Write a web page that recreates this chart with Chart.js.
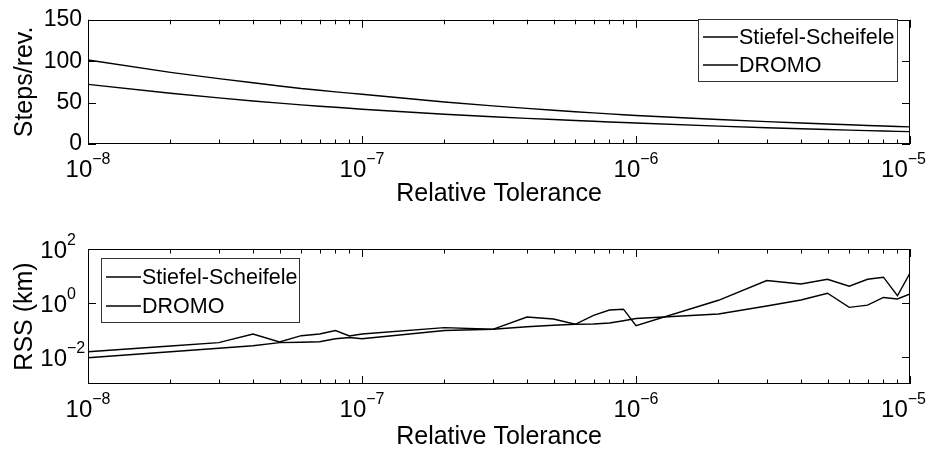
<!DOCTYPE html>
<html><head><meta charset="utf-8">
<script src="https://cdn.jsdelivr.net/npm/chart.js@4.4.0/dist/chart.umd.min.js"></script>
<style>
html,body{margin:0;padding:0;background:#fff;}
#wrap{position:relative;width:936px;height:452px;overflow:hidden;background:#fff;}
canvas{position:absolute;left:0;}
</style></head><body>
<div id="wrap">
<canvas id="c1" width="936" height="226" style="top:0px"></canvas>
<canvas id="c2" width="936" height="226" style="top:226px"></canvas>
</div>
<script>
// ---- data ----
const tolerance = [1e-8,2e-8,3e-8,4e-8,5e-8,6e-8,7e-8,8e-8,9e-8,
                   1e-7,2e-7,3e-7,4e-7,5e-7,6e-7,7e-7,8e-7,9e-7,
                   1e-6,2e-6,3e-6,4e-6,5e-6,6e-6,7e-6,8e-6,9e-6,1e-5];
const seriesNames = ['Stiefel-Scheifele', 'DROMO'];
const ssSteps    = [101.5,86.5,79,74,70,67,65,63,61.5,60,50.8,46,43,40.8,39,37.6,36.4,35.4,34.5,29.6,27,25.4,24.1,23.2,22.4,21.7,21.2,20.7];
const dromoSteps = [72,61.3,55.7,52,49.4,47.3,45.6,44.3,43.1,42,36,33,31,29.5,28.3,27.4,26.6,25.9,25.3,21.6,19.7,18.4,17.5,16.7,16.2,15.7,15.3,14.9];
const ssRss    = [0.0157,0.0255,0.034,0.071,0.036,0.0615,0.071,0.096,0.06,0.071,0.122,0.106,0.303,0.255,0.163,0.35,0.55,0.59,0.144,1.26,6.8,5.05,7.6,4.19,7.55,9.03,1.86,12.9];
const dromoRss = [0.0094,0.0156,0.021,0.026,0.034,0.0353,0.0366,0.0472,0.0527,0.0472,0.0957,0.106,0.132,0.149,0.163,0.167,0.181,0.221,0.267,0.39,0.77,1.29,2.29,0.69,0.83,1.6,1.41,2.15];
const xTickExponents = [-8,-7,-6,-5];
const stepsTicks = [0,50,100,150];
const rssTickExponents = [-2,0,2];
const xTitle = 'Relative Tolerance';
const stepsTitle = 'Steps/rev.';
const rssTitle = 'RSS (km)';

const FONT = "'Liberation Sans', Arial, Helvetica, sans-serif";
const MINUS = '\u2212';

function pts(vals){ return tolerance.map((t,i)=>({x:t, y:vals[i]})); }

const matlabAxes = {
  id: 'matlabAxes',
  afterDraw(chart, args, o) {
    const ctx = chart.ctx, a = chart.chartArea;
    const xs = chart.scales.x, ys = chart.scales.y;
    ctx.save();
    ctx.strokeStyle = '#000'; ctx.lineWidth = 1;
    ctx.strokeRect(Math.round(a.left)+0.5, Math.round(a.top)+0.5, Math.round(a.right-a.left)-1, Math.round(a.bottom-a.top)-1);
    const L = 8, Lm = 4.5;
    const decs = xTickExponents;
    ctx.beginPath();
    decs.forEach((e,k)=>{
      const v = Math.pow(10,e);
      const px = Math.round(xs.getPixelForValue(v))+0.5;
      ctx.moveTo(px, a.bottom); ctx.lineTo(px, a.bottom-L);
      ctx.moveTo(px, a.top); ctx.lineTo(px, a.top+L);
      if (k < decs.length-1) {
        for (let m=2;m<=9;m++){
          const p = Math.round(xs.getPixelForValue(m*v))+0.5;
          ctx.moveTo(p, a.bottom); ctx.lineTo(p, a.bottom-Lm);
          ctx.moveTo(p, a.top); ctx.lineTo(p, a.top+Lm);
        }
      }
    });
    o.yTicks.forEach(v=>{
      const py = Math.round(ys.getPixelForValue(v))+0.5;
      ctx.moveTo(a.left, py); ctx.lineTo(a.left+L, py);
      ctx.moveTo(a.right, py); ctx.lineTo(a.right-L, py);
    });
    ctx.stroke();
    ctx.fillStyle = '#000';
    ctx.textBaseline = 'alphabetic';
    decs.forEach(e=>{
      const px = xs.getPixelForValue(Math.pow(10,e));
      ctx.font = '24px ' + FONT;
      const w1 = ctx.measureText('10').width;
      ctx.font = '16px ' + FONT;
      const es = (e<0?MINUS:'') + Math.abs(e);
      const w2 = ctx.measureText(es).width;
      let x0 = px - (w1+w2)/2;
      if (x0 + w1 + w2 > 926) x0 = 926 - w1 - w2;
      const base = a.bottom + 33;
      ctx.textAlign = 'left';
      ctx.font = '24px ' + FONT; ctx.fillText('10', x0, base);
      ctx.font = '16px ' + FONT; ctx.fillText(es, x0 + w1, base - 13);
    });
    if (o.yLogExps) {
      o.yLogExps.forEach(e=>{
        const py = ys.getPixelForValue(Math.pow(10,e));
        const es = (e<0?MINUS:'') + Math.abs(e);
        ctx.textAlign = 'right'; ctx.font = '24px ' + FONT;
        ctx.fillText('10', a.left - 21, py + 8.5);
        ctx.textAlign = 'left'; ctx.font = '16px ' + FONT;
        ctx.fillText(es, a.left - 21, py - 4.5);
      });
    }
    const lg = o.legend;
    ctx.fillStyle = '#fff';
    ctx.fillRect(lg.x, lg.y, lg.w, lg.h);
    ctx.strokeStyle = '#333'; ctx.lineWidth = 1;
    ctx.strokeRect(lg.x+0.5, lg.y+0.5, lg.w, lg.h);
    chart.data.datasets.forEach((ds,i)=>{
      const ry = lg.y + lg.rows[i];
      ctx.strokeStyle = ds.borderColor; ctx.lineWidth = ds.borderWidth;
      ctx.beginPath(); ctx.moveTo(lg.x+5, ry); ctx.lineTo(lg.x+40, ry); ctx.stroke();
      ctx.fillStyle = '#000'; ctx.font = '21.5px ' + FONT;
      ctx.textAlign = 'left'; ctx.textBaseline = 'middle';
      ctx.fillText(ds.label, lg.x+41, ry+1);
    });
    ctx.restore();
  }
};

function makeChart(id, vals, yScale, pad, xH, plugOpts, xTitlePadB) {
  return new Chart(document.getElementById(id), {
    type: 'line',
    data: {
      datasets: vals.map((v,i)=>({
        label: seriesNames[i], data: pts(v),
        borderColor: '#000', borderWidth: 1.4, pointRadius: 0, tension: 0, fill: false
      }))
    },
    options: {
      responsive: false, animation: false, events: [],
      layout: { padding: pad },
      plugins: { legend: {display:false}, tooltip: {enabled:false}, matlabAxes: plugOpts },
      scales: {
        x: {
          type: 'logarithmic', min: 1e-8, max: 1e-5,
          grid: {display:false, drawTicks:false}, border: {display:false},
          ticks: {display:false},
          title: {display:true, text: xTitle, color:'#000', font:{family:FONT, size:25}, padding:{top:0,bottom:xTitlePadB}},
          afterFit(s){ s.height = xH; }
        },
        y: Object.assign({
          grid: {display:false, drawTicks:false}, border: {display:false},
          afterFit(s){ s.width = 88; }
        }, yScale)
      }
    },
    plugins: [matlabAxes]
  });
}

makeChart('c1', [ssSteps, dromoSteps], {
  type: 'linear', min: 0, max: 150,
  afterBuildTicks(s){ s.ticks = stepsTicks.map(v=>({value:v})); },
  ticks: {color:'#000', padding:6, font:{family:FONT, size:23}},
  title: {display:true, text: stepsTitle, color:'#000', font:{family:FONT, size:25}, padding:{top:10,bottom:0}}
}, {top:10, right:26, left:0, bottom:0}, 82,
{ yTicks: stepsTicks, legend: {x:698, y:19, w:199, h:62, rows:[18,46]} }, 17);

makeChart('c2', [ssRss, dromoRss], {
  type: 'logarithmic', min: 1e-3, max: 1e2,
  ticks: {display:false},
  title: {display:true, text: rssTitle, color:'#000', font:{family:FONT, size:25}, padding:{top:10,bottom:0}}
}, {top:23, right:26, left:0, bottom:0}, 68,
{ yTicks: rssTickExponents.map(e=>Math.pow(10,e)), yLogExps: rssTickExponents,
  legend: {x:101, y:32, w:198, h:64, rows:[19,48]} }, 0);
</script>
</body></html>
